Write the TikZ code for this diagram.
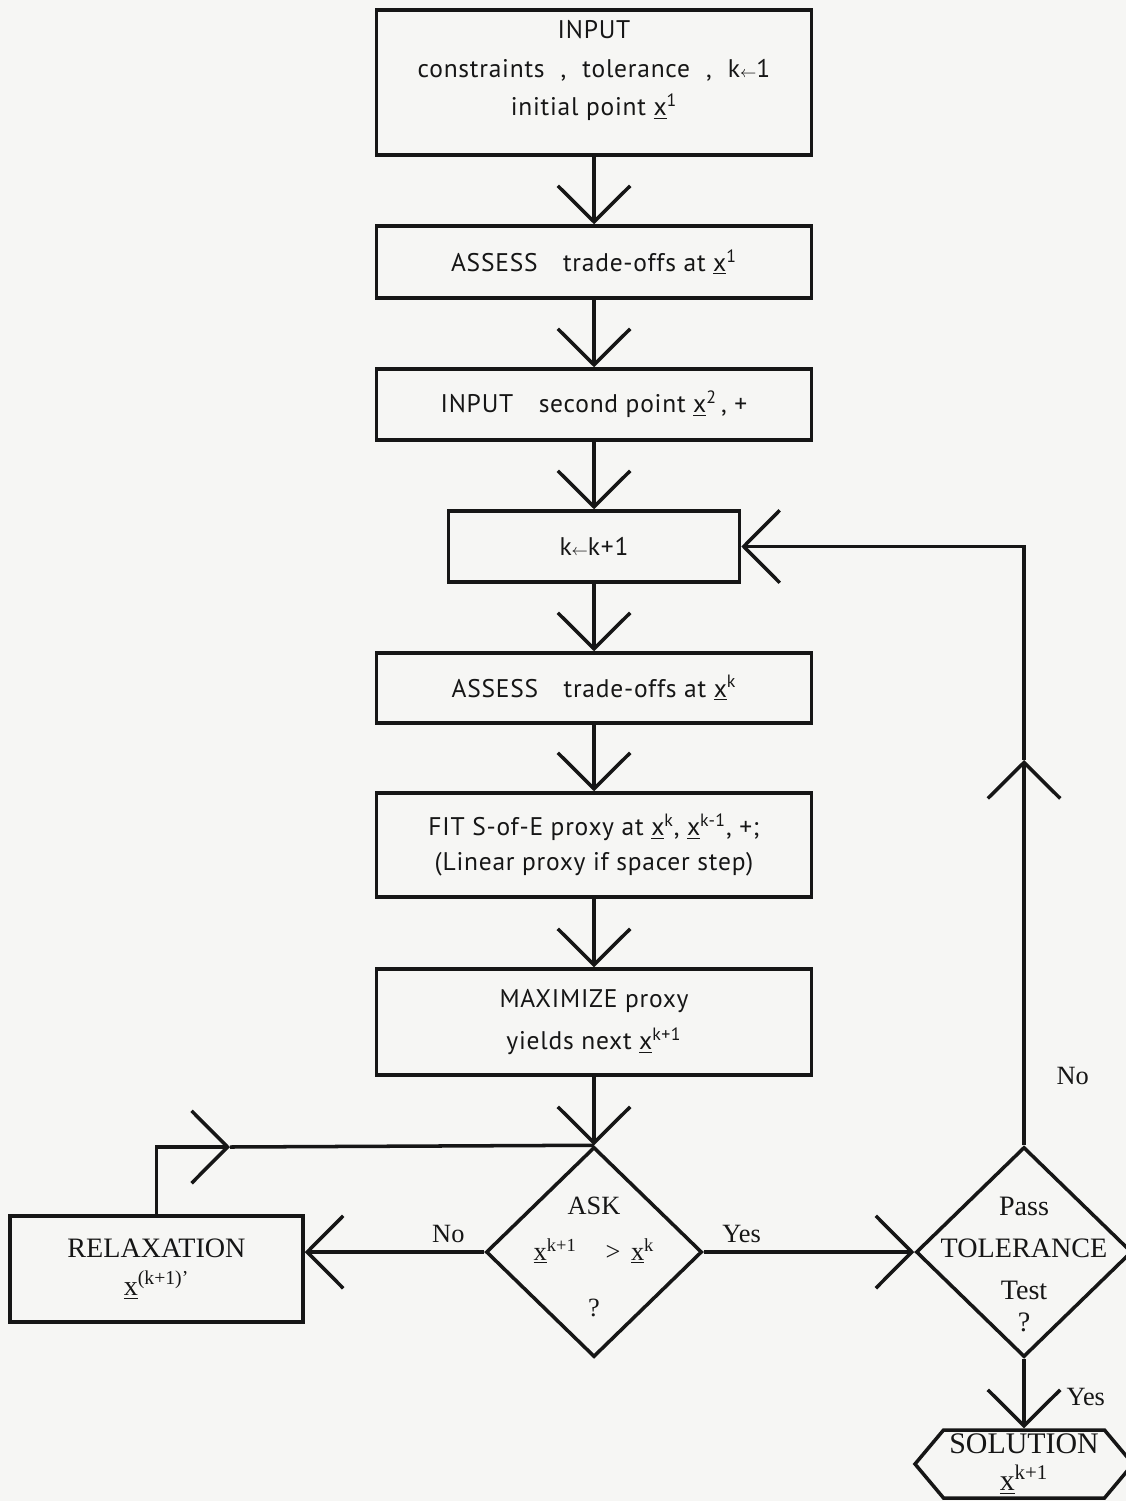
\documentclass[tikz,border=0pt]{standalone}
\usepackage{fontspec}
\setmainfont{Liberation Serif}
\newfontfamily\boxfont[LetterSpace=3]{PT Sans}
\usepackage{xcolor}
\usetikzlibrary{arrows.meta,positioning,calc,shapes.geometric,shapes.symbols}
\definecolor{paper}{RGB}{246, 246, 244}
\definecolor{ink}{RGB}{22, 22, 22}
\newcommand{\vx}{\underline{x}}

\begin{document}
\begin{tikzpicture}[
  procbox/.style={rectangle, draw=ink, line width=2pt, minimum width=8.7cm, inner sep=0pt, align=center, text=ink, font=\boxfont\fontsize{14.5}{22}\selectfont},
  decision/.style={diamond, draw=ink, line width=2pt, minimum width=4.32cm, minimum height=4.2cm, inner sep=0pt},
  decisiontext/.style={align=center, text=ink, font=\fontsize{15}{24}\selectfont},
  endbox/.style={signal, signal to=west and east, signal pointer angle=100, draw=ink, line width=2pt, minimum width=4.36cm, minimum height=1.36cm, inner sep=0pt, align=center, text=ink, font=\fontsize{17}{19}\selectfont},
  flowarrow/.style={-{Straight Barb[length=0.72cm, width=1.45cm]}, line width=2pt, color=ink},
  flowlabel/.style={font=\fontsize{15}{17}\selectfont, text=ink}
]
\useasboundingbox[fill=paper] (0,0) rectangle (22.52,-30.02);
\clip (0,0) rectangle (22.52,-30.02);

% Main column
\node[procbox, minimum height=2.9cm] (in1) at (11.88, -1.65) {
INPUT\\
constraints\,\, ,\,\, tolerance\,\, ,\,\, k{\small$\leftarrow$}1\\
initial point \vx\textsuperscript{1}\\[-0.2cm]\mbox{}
};
\node[procbox, minimum height=1.44cm] (as1) at (11.88, -5.24) {ASSESS\quad trade-offs at \vx\textsuperscript{1}};
\node[procbox, minimum height=1.42cm] (in2) at (11.88, -8.09) {INPUT\quad second point \vx\textsuperscript{2}\,, +};
\node[procbox, minimum width=5.82cm, minimum height=1.42cm] (inc) at (11.88, -10.93) {k{\small$\leftarrow$}k+1};
\node[procbox, minimum height=1.40cm] (as2) at (11.88, -13.76) {ASSESS\quad trade-offs at \vx\textsuperscript{k}};
\node[procbox, minimum height=2.08cm, font=\boxfont\fontsize{14.5}{20}\selectfont] (fit) at (11.88, -16.90) {
FIT S-of-E proxy at \vx\textsuperscript{k}, \vx\textsuperscript{k-1}, +;\\
(Linear proxy if spacer step)
};
\node[procbox, minimum height=2.12cm, font=\boxfont\fontsize{14.5}{24}\selectfont] (max) at (11.88, -20.44) {
MAXIMIZE proxy\\
yields next \vx\textsuperscript{k+1}
};

% Bottom row: tests, relaxation, solution
\node[decision] (ask) at (11.88, -25.04) {};
\node[decisiontext] (asktext) at ([yshift=-0.1cm]ask.center) {ASK\\[2pt] \vx\textsuperscript{k+1}\hspace{1.1em}>\hspace{0.4em}\vx\textsuperscript{k}\\[8pt] ?};
\node[procbox, minimum width=5.86cm, minimum height=2.12cm, font=\fontsize{16}{22}\selectfont] (relax) at (3.13, -25.38) {
RELAXATION\\
\vx\textsuperscript{(k+1)'}
};
\node[decision] (tol) at (20.48, -25.04) {};
\node[decisiontext, font=\fontsize{16}{24}\selectfont] (toltext) at ([yshift=-0.25cm]tol.center) {Pass\\TOLERANCE\\Test\\[-6pt]?};
\node[endbox] (sol) at (20.48, -29.28) {SOLUTION\\[2pt]\vx\textsuperscript{k+1}};

\coordinate (loopmid) at (4.60, -22.94);
\coordinate (upmid) at (20.48, -15.20);

% Connectors
\draw[flowarrow] (in1.south) -- (as1.north);
\draw[flowarrow] (as1.south) -- (in2.north);
\draw[flowarrow] (in2.south) -- (inc.north);
\draw[flowarrow] (inc.south) -- (as2.north);
\draw[flowarrow] (as2.south) -- (fit.north);
\draw[flowarrow] (fit.south) -- (max.north);
\draw[flowarrow] (max.south) -- (ask.north);
\draw[flowarrow] (ask.west) -- (ask.west -| relax.east) node[pos=0.2, above=1pt, flowlabel]{No};
\draw[flowarrow] (relax.north) |- (loopmid);
\draw[line width=2pt, ink] (loopmid) -- (ask.north);
\draw[flowarrow] (ask.east) -- (tol.west) node[pos=0.18, above=1pt, flowlabel]{Yes};
\draw[flowarrow] (tol.north) -- (upmid) node[pos=0.18, right=0.5cm, flowlabel]{No};
\draw[flowarrow] (upmid) |- (inc.east);
\draw[flowarrow] (tol.south) -- (sol.north) node[pos=0.55, right=0.7cm, flowlabel]{Yes};

\end{tikzpicture}
\end{document}
